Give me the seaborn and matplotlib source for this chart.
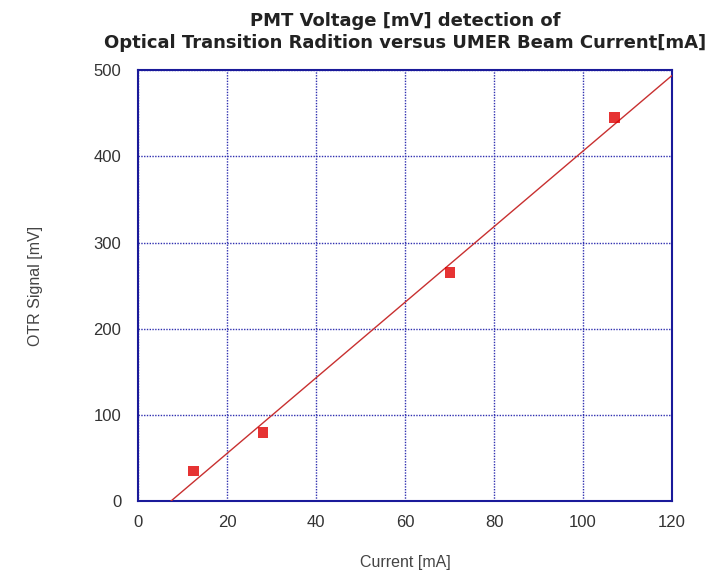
import matplotlib
matplotlib.use("Agg")
import matplotlib.pyplot as plt
import seaborn as sns
import pandas as pd

current_mA = [12.4, 28.1, 70.1, 107.0]
otr_signal_mV = [35, 80, 265, 445]
x_ticks = [0, 20, 40, 60, 80, 100, 120]
y_ticks = [0, 100, 200, 300, 400, 500]

df = pd.DataFrame({"Current": current_mA, "OTR": otr_signal_mV})

sns.set_style("white")
plt.rcParams['font.family'] = ['Liberation Sans', 'DejaVu Sans']

fig = plt.figure(figsize=(7.15, 5.76), dpi=100)
ax = fig.add_axes([0.193, 0.13, 0.747, 0.748])

navy = "#1a1a9a"
ax.set_xlim(0, 120)
ax.set_ylim(0, 500)

sns.regplot(data=df, x="Current", y="OTR", ax=ax, ci=None, truncate=False,
            marker="s",
            scatter_kws=dict(color="#e00000", s=60, edgecolor="none", zorder=4),
            line_kws=dict(color="#c83030", lw=1.0, zorder=3))
ax.set_xlim(0, 120)
ax.set_ylim(0, 500)

ax.set_xticks(x_ticks)
ax.set_yticks(y_ticks)
ax.grid(True, color="#3030b0", linestyle=(0, (1, 1)), linewidth=1.0)
for s in ax.spines.values():
    s.set_color(navy)
    s.set_linewidth(1.5)
ax.tick_params(axis="both", direction="in", length=5, width=1.5, color=navy,
               labelsize=12, labelcolor="#333333")
ax.tick_params(axis="y", pad=12)
ax.tick_params(axis="x", pad=10)

ax.set_xlabel("Current [mA]", fontsize=11.5, color="#444444", labelpad=18)
ax.set_ylabel("OTR Signal [mV]", fontsize=11.5, color="#444444", labelpad=36)
ax.set_title("PMT Voltage [mV] detection of\nOptical Transition Radition versus UMER Beam Current[mA]",
             fontsize=13, fontweight="bold", color="#222222", pad=16, linespacing=1.3,
             family="DejaVu Sans")

fig.savefig("out.png", dpi=100, facecolor="white")
